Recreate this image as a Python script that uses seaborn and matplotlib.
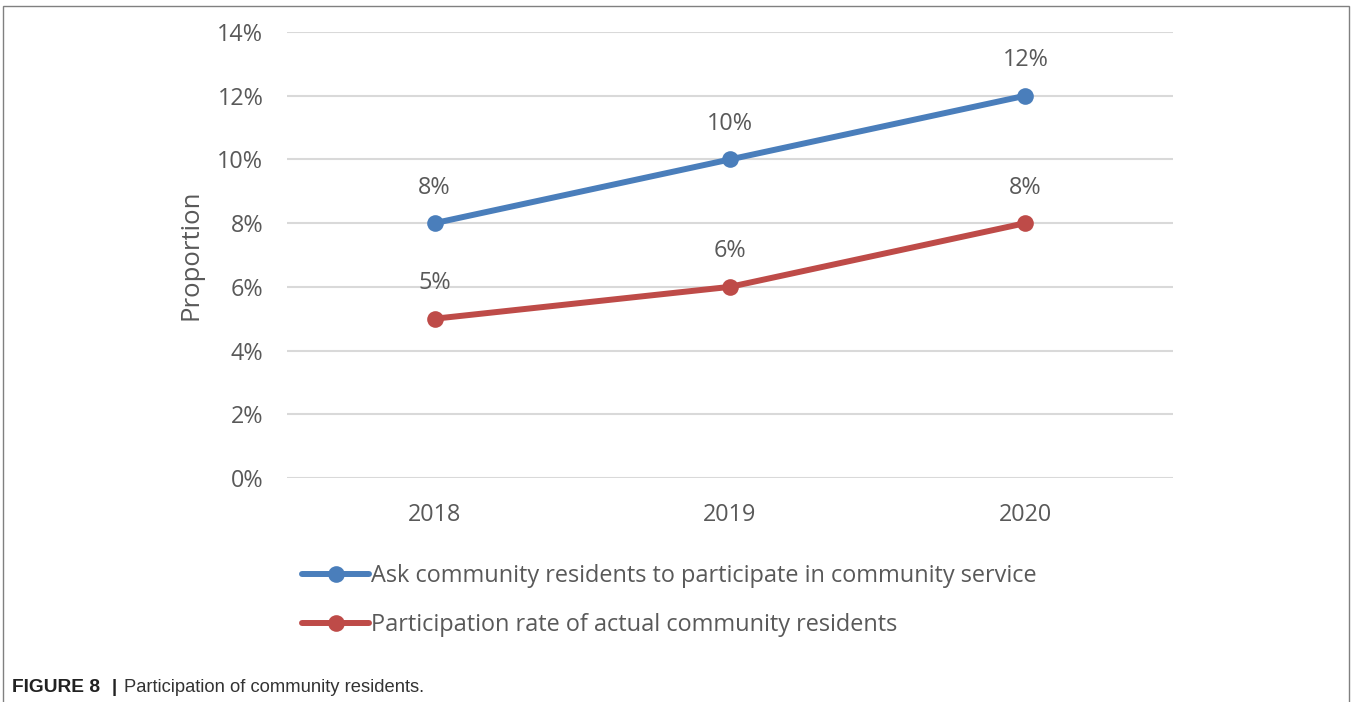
import matplotlib
matplotlib.use("Agg")
import matplotlib.pyplot as plt
from matplotlib.lines import Line2D
from matplotlib.patches import Rectangle
from matplotlib.ticker import PercentFormatter
import seaborn as sns
import pandas as pd

years = ["2018", "2019", "2020"]
asked = [0.08, 0.10, 0.12]
actual = [0.05, 0.06, 0.08]
series_names = [
    "Ask community residents to participate in community service",
    "Participation rate of actual community residents",
]
colors = ["#4A7EBB", "#BE4B48"]

df = pd.DataFrame({
    "year": years * 2,
    "value": asked + actual,
    "series": [series_names[0]] * 3 + [series_names[1]] * 3,
})

sns.set_theme(style="white")
plt.rcParams["font.family"] = ["Open Sans", "DejaVu Sans"]
text_col = "#595959"

fig = plt.figure(figsize=(13.51, 7.02), dpi=100)
ax = fig.add_axes([287 / 1351, 1 - 478 / 702, (1173 - 287) / 1351, (478 - 32) / 702])

sns.lineplot(data=df, x="year", y="value", hue="series", palette=colors,
             marker="o", markersize=12, linewidth=4.3, markeredgewidth=0,
             legend=False, ax=ax, sort=False)

ax.set_xlim(-0.5, 2.5)
ax.set_ylim(0, 0.14)
ax.set_yticks([i * 0.02 for i in range(8)])
ax.yaxis.set_major_formatter(PercentFormatter(1.0, decimals=0))
ax.grid(axis="y", color="#D9D9D9", linewidth=1.5)
ax.set_axisbelow(True)
for s in ax.spines.values():
    s.set_visible(False)
ax.tick_params(axis="both", length=0, labelsize=16.8, labelcolor=text_col)
ax.tick_params(axis="y", pad=17)
ax.tick_params(axis="x", pad=18)
ax.set_xlabel("")
ax.set_ylabel("Proportion", fontsize=18.5, color=text_col)
ax.yaxis.set_label_coords((203 - 287) / 886, 0.5)

# value labels above each point
for vals in (asked, actual):
    for i, v in enumerate(vals):
        ax.annotate(f"{v * 100:.0f}%", (i, v), xytext=(0, 25.5), textcoords="offset points",
                    ha="center", va="center", fontsize=16.8, color=text_col)

handles = [Line2D([0], [0], color=c, linewidth=4.3, marker="o", markersize=12,
                  markeredgewidth=0) for c in colors]
fig.legend(handles, series_names, loc="upper left",
           bbox_to_anchor=(281 / 1351, 1 - 543 / 702), frameon=False,
           fontsize=16.9, labelcolor=text_col, handlelength=2.85, handletextpad=0.08,
           labelspacing=1.08)

fig.patches.append(Rectangle((3 / 1351, -0.05), (1349 - 3) / 1351, 1.05 - 6 / 702,
                             transform=fig.transFigure, fill=False,
                             edgecolor="#808080", linewidth=1))

fig.text(12 / 1351, 1 - 688 / 702, "FIGURE 8", fontsize=13.8, fontweight="bold",
         color="#222222", family="Liberation Sans", va="center")
fig.text(112 / 1351, 1 - 688 / 702, "|", fontsize=13.5, fontweight="bold",
         color="#222222", family="Liberation Sans", va="center")
fig.text(124 / 1351, 1 - 688 / 702, "Participation of community residents.",
         fontsize=13.2, color="#333333", family="Liberation Sans", va="center")

fig.savefig("out.png", dpi=100, facecolor="white")
